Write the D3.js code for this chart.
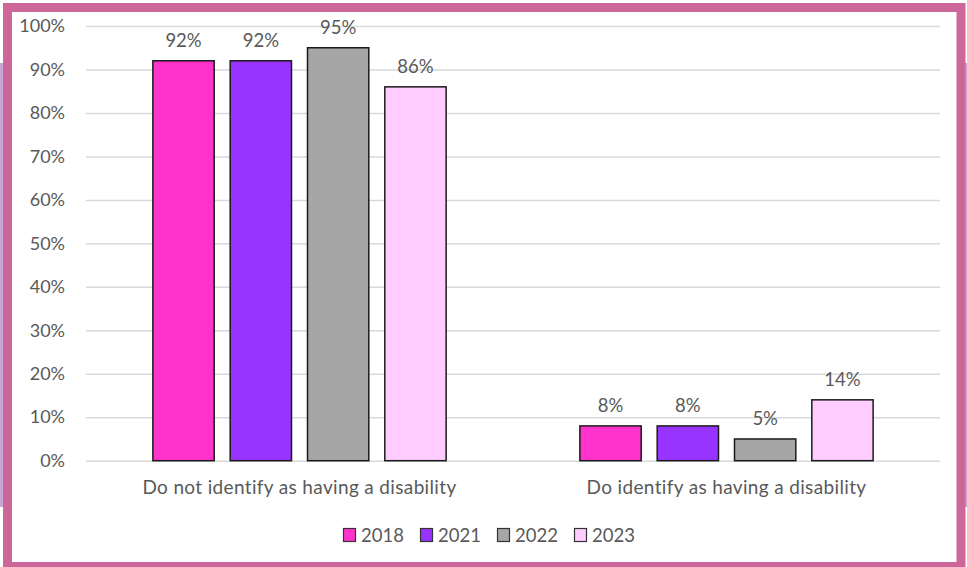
<!DOCTYPE html>
<html>
<head>
<meta charset="utf-8">
<script src="https://cdn.jsdelivr.net/npm/d3@7/dist/d3.min.js"></script>
<style>
  html, body { margin: 0; padding: 0; background: #fff; }
  svg { display: block; }
  text { font-family: Lato, "Open Sans", sans-serif; fill: #595959; }
</style>
</head>
<body>
<svg id="chart" width="967" height="567"></svg>
<script>
// Disability identification share by survey year
const categories = ["Do not identify as having a disability", "Do identify as having a disability"];
const years = ["2018", "2021", "2022", "2023"];
const values2018 = [92, 8];
const values2021 = [92, 8];
const values2022 = [95, 5];
const values2023 = [86, 14];
const yTicks = [0, 10, 20, 30, 40, 50, 60, 70, 80, 90, 100];

const seriesValues = { "2018": values2018, "2021": values2021, "2022": values2022, "2023": values2023 };
const colors = { "2018": "#FF33CC", "2021": "#9933FF", "2022": "#A6A6A6", "2023": "#FFCCFF" };

const svg = d3.select("#chart");
const W = 967, H = 567;

// frame
svg.append("rect").attr("x", 0).attr("y", 0).attr("width", W).attr("height", H).attr("fill", "#fff");
svg.append("rect").attr("x", 0).attr("y", 63).attr("width", 5).attr("height", 444).attr("fill", "#C7A7D2");
svg.append("rect").attr("x", 962).attr("y", 63).attr("width", 5).attr("height", 444).attr("fill", "#C7A7D2");
svg.append("rect").attr("x", 7.5).attr("y", 7.5).attr("width", 953.5).attr("height", 559)
  .attr("fill", "none").attr("stroke", "#CD6699").attr("stroke-width", 9);

const plot = { left: 86, right: 940, top: 26, bottom: 460.7 };

const y = d3.scaleLinear().domain([0, 100]).range([plot.bottom, plot.top]);
const x0 = d3.scaleBand().domain(categories).range([plot.left, plot.right]).padding(0);
const x1 = d3.scaleBand().domain(years).range([0, x0.bandwidth()])
  .paddingInner(0.207).paddingOuter(0.865);

// gridlines
const yAxis = d3.axisLeft(y).tickValues(yTicks)
  .tickSize(-(plot.right - plot.left)).tickFormat(d => d + "%").tickPadding(21);
const gy = svg.append("g").attr("transform", `translate(${plot.left},0)`).call(yAxis);
gy.select(".domain").remove();
gy.selectAll(".tick line").attr("stroke", "#D9D9D9").attr("stroke-width", 1.5);
gy.selectAll(".tick text").attr("font-size", 18).style("fill", "#595959")
  .attr("font-family", "Lato, 'Open Sans', sans-serif");

// bars
const groups = svg.append("g").selectAll("g").data(categories).join("g")
  .attr("transform", d => `translate(${x0(d)},0)`);

groups.each(function(cat, ci) {
  const g = d3.select(this);
  years.forEach(yr => {
    const v = seriesValues[yr][ci];
    g.append("rect")
      .attr("x", x1(yr)).attr("y", y(v))
      .attr("width", x1.bandwidth()).attr("height", y(0) - y(v))
      .attr("fill", colors[yr]).attr("stroke", "#1a1a1a").attr("stroke-width", 1.5);
    g.append("text")
      .attr("x", x1(yr) + x1.bandwidth() / 2).attr("y", y(v) - 14)
      .attr("text-anchor", "middle").attr("font-size", 18.5)
      .text(v + "%");
  });
});

// category labels
const xAxis = d3.axisBottom(x0).tickSize(0).tickPadding(20);
const gx = svg.append("g").attr("transform", `translate(0,${plot.bottom})`).call(xAxis);
gx.select(".domain").remove();
gx.selectAll(".tick text").attr("font-size", 19).style("fill", "#595959")
  .style("letter-spacing", "0.35px")
  .attr("font-family", "Lato, 'Open Sans', sans-serif");

// legend
const legend = svg.append("g").attr("transform", "translate(343,528)");
years.forEach((yr, i) => {
  const lg = legend.append("g").attr("transform", `translate(${i * 77},0)`);
  lg.append("rect").attr("x", 0.5).attr("y", 0.5).attr("width", 12).attr("height", 13)
    .attr("fill", colors[yr]).attr("stroke", "#333").attr("stroke-width", 1.2);
  lg.append("text").attr("x", 18).attr("y", 13.5).attr("font-size", 18.5).text(yr);
});
</script>
</body>
</html>
